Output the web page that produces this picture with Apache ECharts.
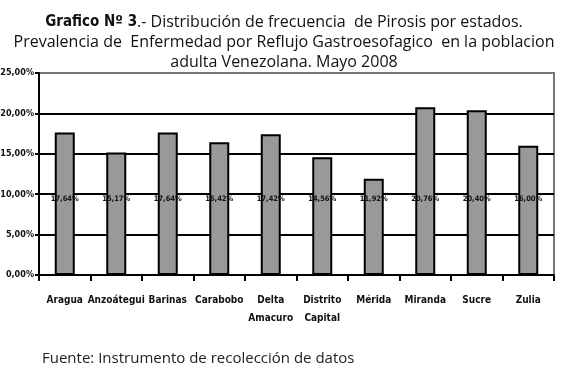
<!DOCTYPE html>
<html>
<head>
<meta charset="utf-8">
<script src="https://cdn.jsdelivr.net/npm/echarts@6/dist/echarts.min.js"></script>
<style>
  html, body { margin: 0; padding: 0; background: #fff; }
  #chart { width: 562px; height: 376px; }
</style>
</head>
<body>
<div id="chart"></div>
<script>
// datos del grafico
var estados = ['Aragua', 'Anzoátegui', 'Barinas', 'Carabobo', 'Delta\nAmacuro', 'Distrito\nCapital', 'Mérida', 'Miranda', 'Sucre', 'Zulia'];
var pirosis = [17.64, 15.17, 17.64, 16.42, 17.42, 14.56, 11.92, 20.76, 20.40, 16.00];

function pct(v) {
  return v.toFixed(2).replace('.', ',') + '%';
}

var narrow = '"DejaVu Sans Condensed", "Liberation Sans Narrow", sans-serif';

var myChart = echarts.init(document.getElementById('chart'));

var option = {
  animation: false,
  title: [{
    left: 279,
    top: 7,
    textAlign: 'center',
    text: '{b|Grafico Nº 3}.- Distribución de frecuencia  de Pirosis por estados.\nPrevalencia de  Enfermedad por Reflujo Gastroesofagico  en la poblacion\nadulta Venezolana. Mayo 2008',
    textStyle: {
      fontFamily: '"Open Sans", sans-serif',
      fontSize: 16,
      fontWeight: 'normal',
      color: '#111',
      lineHeight: 20,
      rich: {
        b: { fontFamily: narrow, fontSize: 15, fontWeight: 'bold', color: '#111', lineHeight: 20 }
      }
    }
  }, {
    left: 37,
    top: 346,
    text: 'Fuente: Instrumento de recolección de datos',
    textStyle: {
      fontFamily: '"Open Sans", sans-serif',
      fontSize: 15,
      fontWeight: 'normal',
      color: '#222'
    }
  }],
  grid: {
    left: 39,
    right: 8,
    top: 73,
    bottom: 101,
    outerBoundsMode: 'none',
    show: true,
    borderColor: '#777',
    borderWidth: 2
  },
  xAxis: {
    type: 'category',
    data: estados,
    axisLine: { lineStyle: { color: '#000', width: 2 } },
    axisTick: { show: true, length: 6, lineStyle: { color: '#000', width: 2 } },
    axisLabel: {
      margin: 16,
      interval: 0,
      color: '#111',
      fontFamily: narrow,
      fontWeight: 'bold',
      fontSize: 10,
      lineHeight: 18
    }
  },
  yAxis: {
    type: 'value',
    min: 0,
    max: 25,
    interval: 5,
    axisLine: { show: true, lineStyle: { color: '#000', width: 2 } },
    axisTick: { show: true, length: 4, lineStyle: { color: '#000', width: 2 } },
    splitLine: {
      lineStyle: { color: ['#000', '#000', '#000', '#000', '#000', '#777'], width: 2 }
    },
    axisLabel: {
      margin: 5,
      color: '#111',
      fontFamily: narrow,
      fontWeight: 'bold',
      fontSize: 9,
      formatter: function (v) { return pct(v); }
    }
  },
  series: [{
    name: 'Pirosis',
    type: 'bar',
    barWidth: 20,
    data: pirosis,
    itemStyle: {
      color: '#999999',
      borderColor: '#000',
      borderWidth: 2
    },
    label: {
      show: true,
      position: 'insideBottom',
      distance: 72,
      color: '#111',
      fontFamily: narrow,
      fontWeight: 'bold',
      fontSize: 7.5,
      formatter: function (p) { return pct(p.value); }
    }
  }]
};

myChart.setOption(option);
</script>
</body>
</html>
